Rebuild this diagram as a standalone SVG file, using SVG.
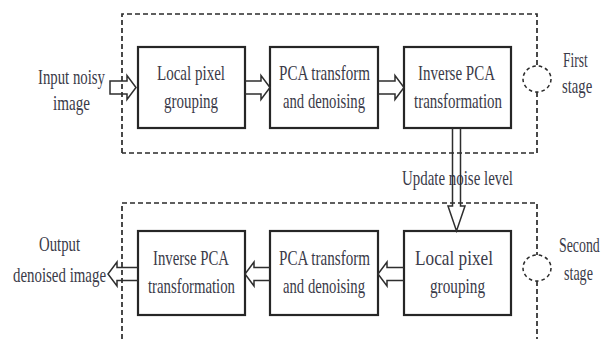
<svg xmlns="http://www.w3.org/2000/svg" width="605" height="339" viewBox="0 0 605 339">
  <defs>
    <style>
      .box { fill: #ffffff; stroke: #262626; stroke-width: 2.2; }
      .stage { fill: none; stroke: #2a2a2a; stroke-width: 1.7; stroke-dasharray: 5 3; }
      .brk { fill: none; stroke: #2a2a2a; stroke-width: 1.5; stroke-dasharray: 3.5 3; }
      .arrow { fill: none; stroke: #2e2e2e; stroke-width: 1.5; stroke-linejoin: miter; }
      .lbl { font-family: "Liberation Serif", "Times New Roman", serif; font-size: 21px; fill: #3a3a48; }
    </style>
  </defs>

  <!-- stage frames (dashed) -->
  <g id="stage-frames">
    <path class="stage" d="M122,153 V14 H537 V66"/>
    <path class="stage" d="M537,92 V153 H122"/>
    <ellipse class="brk" cx="537" cy="79" rx="14" ry="13"/>
    <path class="stage" d="M122,339 V203 H537 V255"/>
    <path class="stage" d="M537,281 V339"/>
    <ellipse class="brk" cx="537" cy="268" rx="14" ry="13"/>
  </g>

  <!-- first stage nodes -->
  <g id="node-local-pixel-1">
    <rect class="box" x="138" y="47" width="107" height="81"/>
    <text class="lbl" x="157" y="80" textLength="68" lengthAdjust="spacingAndGlyphs">Local pixel</text>
    <text class="lbl" x="164" y="108" textLength="54" lengthAdjust="spacingAndGlyphs">grouping</text>
  </g>
  <g id="node-pca-1">
    <rect class="box" x="270" y="47" width="108" height="81"/>
    <text class="lbl" x="279" y="80" textLength="91" lengthAdjust="spacingAndGlyphs">PCA transform</text>
    <text class="lbl" x="283" y="108" textLength="82" lengthAdjust="spacingAndGlyphs">and denoising</text>
  </g>
  <g id="node-inverse-1">
    <rect class="box" x="404" y="47" width="107" height="81"/>
    <text class="lbl" x="418" y="80" textLength="77" lengthAdjust="spacingAndGlyphs">Inverse PCA</text>
    <text class="lbl" x="414" y="108" textLength="88" lengthAdjust="spacingAndGlyphs">transformation</text>
  </g>

  <!-- second stage nodes -->
  <g id="node-local-pixel-2">
    <rect class="box" x="404" y="231" width="107" height="84"/>
    <text class="lbl" x="415" y="265" textLength="78" lengthAdjust="spacingAndGlyphs">Local pixel</text>
    <text class="lbl" x="430" y="293" textLength="55" lengthAdjust="spacingAndGlyphs">grouping</text>
  </g>
  <g id="node-pca-2">
    <rect class="box" x="270" y="231" width="108" height="84"/>
    <text class="lbl" x="279" y="265" textLength="91" lengthAdjust="spacingAndGlyphs">PCA transform</text>
    <text class="lbl" x="283" y="293" textLength="82" lengthAdjust="spacingAndGlyphs">and denoising</text>
  </g>
  <g id="node-inverse-2">
    <rect class="box" x="138" y="231" width="107" height="84"/>
    <text class="lbl" x="153" y="265" textLength="76" lengthAdjust="spacingAndGlyphs">Inverse PCA</text>
    <text class="lbl" x="148" y="293" textLength="87" lengthAdjust="spacingAndGlyphs">transformation</text>
  </g>

  <!-- terminal and side labels -->
  <g id="node-input">
    <text class="lbl" x="38" y="84" textLength="67" lengthAdjust="spacingAndGlyphs">Input noisy</text>
    <text class="lbl" x="53" y="110" textLength="37" lengthAdjust="spacingAndGlyphs">image</text>
  </g>
  <g id="node-output">
    <text class="lbl" x="39" y="251" textLength="41" lengthAdjust="spacingAndGlyphs">Output</text>
    <text class="lbl" x="13" y="282" textLength="93" lengthAdjust="spacingAndGlyphs">denoised image</text>
  </g>
  <!-- side labels: horizontally condensed serif -->
  <g id="label-first-stage">
    <text class="lbl" transform="translate(563,67) scale(0.64,1)">First</text>
    <text class="lbl" transform="translate(562,93) scale(0.7,1)">stage</text>
  </g>
  <g id="label-second-stage">
    <text class="lbl" transform="translate(559,252) scale(0.66,1)">Second</text>
    <text class="lbl" transform="translate(564,280) scale(0.67,1)">stage</text>
  </g>
  <g id="label-update">
    <text class="lbl" x="402" y="185" textLength="111" lengthAdjust="spacingAndGlyphs">Update noise level</text>
  </g>

  <!-- hollow block arrows -->
  <g id="connectors">
    <path class="arrow" d="M110,81 H127 V75.5 L136,87.5 L127,99.5 V94 H110 Z"/>
    <path class="arrow" d="M245,81 H261 V75.5 L270,87.5 L261,99.5 V94 H245"/>
    <path class="arrow" d="M378,81 H395 V75.5 L404,87.5 L395,99.5 V94 H378"/>
    <path class="arrow" d="M452.5,128 V206 H448 L456.5,231 L465,206 H460.5 V128"/>
    <path class="arrow" d="M404,267.5 H387 V262 L378,274 L387,286 V280.5 H404"/>
    <path class="arrow" d="M270,267.5 H254 V262 L245,274 L254,286 V280.5 H270"/>
    <path class="arrow" d="M138,267.5 H117 V262 L108,274 L117,286 V280.5 H138"/>
  </g>
</svg>
